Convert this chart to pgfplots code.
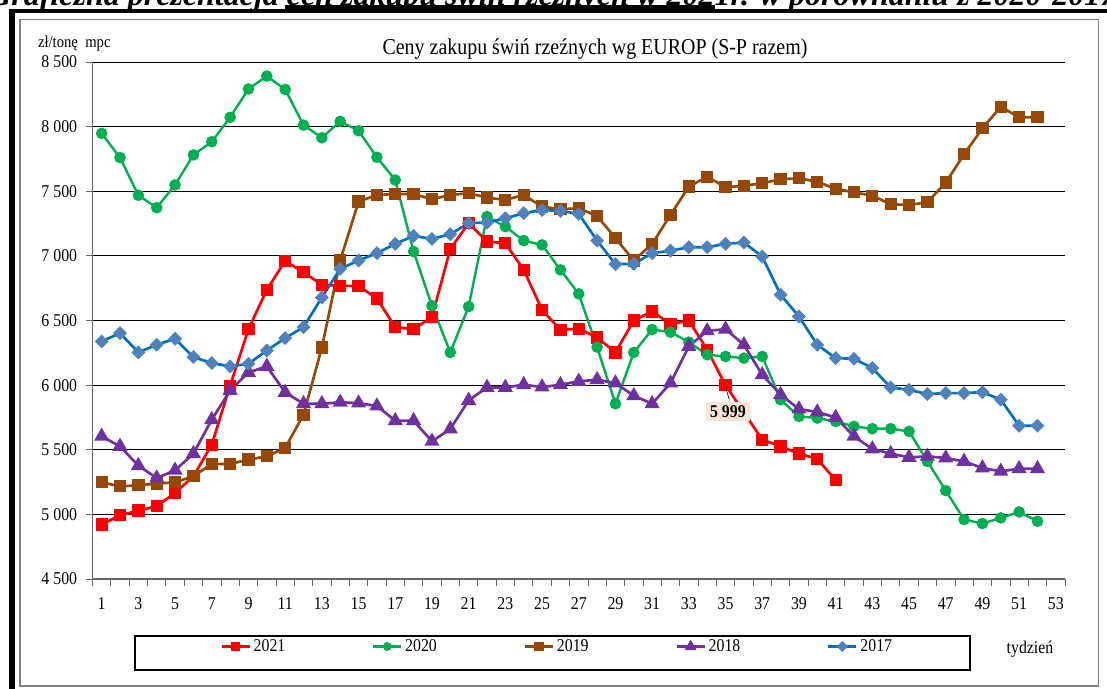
\documentclass[border=0pt]{standalone}
\usepackage{pgfplots}
\pgfplotsset{compat=1.18}
\usepackage{fontspec}
\setmainfont{Liberation Serif}[FakeStretch=0.88]
\newfontfamily\hdrfont{Liberation Serif}
\definecolor{cRed}{RGB}{255,0,0}
\definecolor{cGreen}{RGB}{0,176,80}
\definecolor{cBrown}{RGB}{152,72,6}
\definecolor{cPurple}{RGB}{112,48,160}
\definecolor{cBlueL}{RGB}{0,112,192}
\definecolor{cBlueM}{RGB}{79,129,189}
\definecolor{cPeach}{RGB}{252,228,214}
\begin{document}
\begin{tikzpicture}
% header (cropped at the top as in the reference) and frame
\node[anchor=base west, inner sep=0, font=\hdrfont\bfseries\itshape\fontsize{24}{26}\selectfont] at (-9pt,512.3pt) {Graficzna prezentacja cen zakupu świń rzeźnych w 2021r. w porównaniu z 2020-2017};
\fill[black] (213.75pt,507pt) rectangle (536.25pt,513pt);
\draw[black, line width=2.6pt] (9pt,508.5pt) -- (830.25pt,508.5pt);
\draw[black, line width=4.5pt] (9pt,0pt) -- (9pt,510pt);
\draw[gray, line width=1.1pt] (15pt,502pt) rectangle (824pt,2.25pt);
\begin{axis}[
  at={(69.375pt,82.5pt)}, anchor=south west,
  scale only axis, width=729.375pt, height=387.75pt,
  xmin=0.5, xmax=53.5, ymin=4500, ymax=8500,
  axis x line*=bottom, axis y line*=left,
  axis line style={gray!80!black, line width=0.8pt},
  xtick={1,3,...,53}, major x tick style={draw=none},
  minor xtick={0.5,1.5,...,53.5},
  minor tick length=5pt,
  ytick={4500,5000,...,8500}, major tick length=5pt,
  tick align=outside,
  tick style={gray!80!black, line width=0.6pt},
  ymajorgrids, grid style={black, line width=0.7pt},
  /pgf/number format/assume math mode=true,
  /pgf/number format/.cd, 1000 sep={\ }, /pgfplots/.cd,
  ticklabel style={font=\fontsize{13.5}{14}\selectfont},
  xticklabel style={yshift=-5.5pt},
  yticklabel style={xshift=-3pt},
  clip=false,
  legend columns=5,
  legend style={draw=none, fill=none, at={(0.127,-0.1306)}, anchor=west,
    font=\fontsize{13.5}{14}\selectfont,
    /tikz/every even column/.append style={column sep=63pt}},
  legend image code/.code={\draw[mark repeat=2,mark phase=2,/tikz/every mark/.append style={scale=0.7}] plot coordinates {(0cm,0cm) (0.37cm,0cm) (0.74cm,0cm)};},
]
\addplot[cRed, line width=2pt, mark=square*, mark size=3.6pt, mark options={solid, fill=cRed, draw=cRed}] coordinates {
(1,4921)(2,4993)(3,5029)(4,5063)(5,5166)(6,5295)(7,5539)(8,5995)(9,6433)(10,6737)
(11,6961)(12,6874)(13,6776)(14,6768)(15,6768)(16,6670)(17,6449)(18,6433)(19,6526)(20,7054)
(21,7253)(22,7111)(23,7098)(24,6892)(25,6583)(26,6428)(27,6436)(28,6369)(29,6253)(30,6500)
(31,6570)(32,6472)(33,6500)(34,6274)(35,5999)(36,5790)(37,5578)(38,5526)(39,5470)(40,5429)
(41,5264)};
\addlegendentry{2021}
\addplot[cGreen, line width=1.8pt, mark=*, mark size=3.4pt, mark options={solid, fill=cGreen, draw=cGreen}] coordinates {
(1,7948)(2,7760)(3,7469)(4,7373)(5,7549)(6,7781)(7,7883)(8,8072)(9,8291)(10,8391)
(11,8288)(12,8012)(13,7914)(14,8041)(15,7968)(16,7763)(17,7587)(18,7033)(19,6614)(20,6253)
(21,6608)(22,7304)(23,7226)(24,7118)(25,7085)(26,6892)(27,6706)(28,6294)(29,5856)(30,6253)
(31,6430)(32,6410)(33,6333)(34,6235)(35,6222)(36,6209)(37,6222)(38,5887)(39,5758)(40,5745)
(41,5719)(42,5681)(43,5663)(44,5663)(45,5642)(46,5410)(47,5184)(48,4960)(49,4929)(50,4973)
(51,5019)(52,4947)};
\addlegendentry{2020}
\addplot[cBrown, line width=2pt, mark=square*, mark size=3.6pt, mark options={solid, fill=cBrown, draw=cBrown}] coordinates {
(1,5248)(2,5217)(3,5225)(4,5238)(5,5248)(6,5295)(7,5390)(8,5390)(9,5424)(10,5449)
(11,5514)(12,5771)(13,6291)(14,6964)(15,7420)(16,7471)(17,7479)(18,7479)(19,7438)(20,7471)
(21,7485)(22,7451)(23,7433)(24,7471)(25,7381)(26,7361)(27,7368)(28,7309)(29,7137)(30,6964)
(31,7093)(32,7317)(33,7536)(34,7613)(35,7531)(36,7543)(37,7562)(38,7593)(39,7600)(40,7574)
(41,7518)(42,7492)(43,7466)(44,7399)(45,7394)(46,7415)(47,7567)(48,7786)(49,7987)(50,8154)
(51,8072)(52,8072)};
\addlegendentry{2019}
\addplot[cPurple, line width=2pt, mark=triangle*, mark size=4.6pt, mark options={solid, fill=cPurple, draw=cPurple}] coordinates {
(1,5604)(2,5526)(3,5377)(4,5281)(5,5341)(6,5470)(7,5733)(8,5959)(9,6098)(10,6145)
(11,5944)(12,5856)(13,5856)(14,5867)(15,5861)(16,5838)(17,5725)(18,5725)(19,5565)(20,5661)
(21,5882)(22,5982)(23,5982)(24,6003)(25,5985)(26,6003)(27,6029)(28,6042)(29,6016)(30,5918)
(31,5856)(32,6016)(33,6300)(34,6420)(35,6433)(36,6312)(37,6080)(38,5926)(39,5815)(40,5792)
(41,5750)(42,5604)(43,5506)(44,5470)(45,5441)(46,5449)(47,5436)(48,5410)(49,5359)(50,5333)
(51,5354)(52,5354)};
\addlegendentry{2018}
\addplot[cBlueL, line width=2pt, mark=square*, mark size=2.7pt, mark options={solid, rotate=45, fill=cBlueM, draw=cBlueM}] coordinates {
(1,6338)(2,6402)(3,6253)(4,6312)(5,6359)(6,6217)(7,6171)(8,6145)(9,6165)(10,6268)
(11,6364)(12,6449)(13,6678)(14,6900)(15,6964)(16,7021)(17,7093)(18,7155)(19,7131)(20,7168)
(21,7253)(22,7258)(23,7291)(24,7330)(25,7355)(26,7348)(27,7325)(28,7118)(29,6936)(30,6938)
(31,7021)(32,7040)(33,7067)(34,7067)(35,7093)(36,7103)(37,6995)(38,6699)(39,6531)(40,6312)
(41,6209)(42,6204)(43,6132)(44,5982)(45,5964)(46,5931)(47,5938)(48,5938)(49,5946)(50,5887)
(51,5686)(52,5686)};
\addlegendentry{2017}
\coordinate (leadA) at (axis cs:35,5985);
\coordinate (leadB) at (axis cs:35.2,5890);
\coordinate (lab) at (axis cs:35.13,5794);
\end{axis}
\draw[black, line width=0.5pt] (leadA) -- (leadB);
\node[fill=cPeach, inner xsep=3pt, inner ysep=2.5pt, font=\bfseries\fontsize{13.5}{14}\selectfont] at (lab) {5 999};
% legend frame
\draw[black, line width=0.8pt] (101.25pt,39.75pt) rectangle (727.5pt,14.25pt);
\node[font=\fontsize{13.5}{14}\selectfont] at (772.5pt,30pt) {tydzień};
\node[anchor=west, font=\fontsize{12.5}{13}\selectfont] at (25pt,484.5pt) {zł/tonę~~mpc};
\node[font=\fontsize{17}{19}\selectfont] at (446.25pt,480pt) {Ceny zakupu świń rzeźnych wg EUROP (S-P razem)};
\pgfresetboundingbox
\path[use as bounding box] (0pt,0pt) rectangle (830.25pt,516.75pt);
\end{tikzpicture}
\end{document}
